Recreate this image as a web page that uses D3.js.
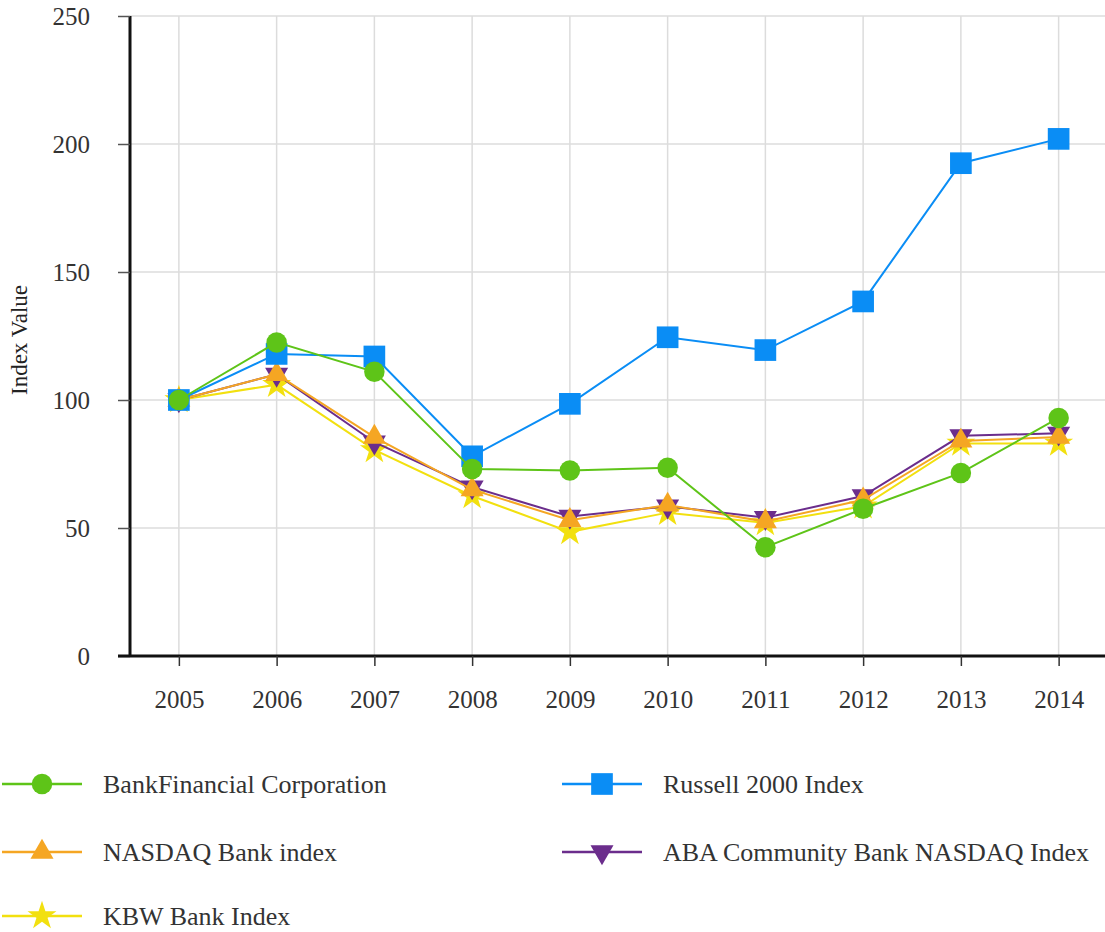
<!DOCTYPE html>
<html><head><meta charset="utf-8">
<script src="https://cdn.jsdelivr.net/npm/d3@7"></script>
<style>body{margin:0;background:#fff}svg{display:block}text{font-family:"Liberation Serif","DejaVu Serif","Times New Roman",serif}</style>
</head><body>
<svg id="c" width="1105" height="932"></svg>
<script>
const years = ["2005","2006","2007","2008","2009","2010","2011","2012","2013","2014"];
const yTicks = [0,50,100,150,200,250];
const bankFinancial = [100,122.5,111,73,72.5,73.5,42.5,57.5,71.5,93];
const russell2000  = [100,118,117,78,98.5,124.5,119.5,138.5,192.5,202];
const nasdaqBank   = [100,110,85.5,65,53,59,52.5,61,84,85.5];
const abaCommunity = [100,110,83.5,66,54.5,58.5,54,62.5,86,87];
const kbwBank      = [100,106,80.5,62.5,48.5,56,52,58.5,83,83];
const seriesNames  = ["BankFinancial Corporation","Russell 2000 Index","NASDAQ Bank index","ABA Community Bank NASDAQ Index","KBW Bank Index"];

const series = [
  {name:seriesNames[4], values:kbwBank, color:"#f2e00f", sym:d3.symbolStar, size:260, rot:0},
  {name:seriesNames[3], values:abaCommunity, color:"#6b2d8c", sym:d3.symbolTriangle, size:230, rot:180},
  {name:seriesNames[2], values:nasdaqBank, color:"#f5a623", sym:d3.symbolTriangle, size:230, rot:0},
  {name:seriesNames[1], values:russell2000, color:"#0a8df5", sym:d3.symbolSquare, size:470, rot:0},
  {name:seriesNames[0], values:bankFinancial, color:"#5ec418", sym:d3.symbolCircle, size:330, rot:0}
];

const svg = d3.select("#c");
const x = d3.scalePoint().domain(years).range([130,1107.5]).padding(0.5);
const y = d3.scaleLinear().domain([0,250]).range([656,16]);

// grid
svg.append("g").selectAll("line").data(years).join("line")
  .attr("x1",d=>x(d)).attr("x2",d=>x(d)).attr("y1",16).attr("y2",656)
  .attr("stroke","#dcdcdc").attr("stroke-width",1.5);
svg.append("g").selectAll("line").data(yTicks).join("line")
  .attr("x1",130).attr("x2",1105).attr("y1",d=>y(d)).attr("y2",d=>y(d))
  .attr("stroke","#dcdcdc").attr("stroke-width",1.5);

// axes
const yAxis = svg.append("g").attr("transform","translate(130,0)")
  .call(d3.axisLeft(y).tickValues(yTicks).tickSize(12).tickPadding(28));
yAxis.attr("font-family",null);
yAxis.select(".domain").attr("stroke","#111").attr("stroke-width",3).attr("d","M0,16V656");
yAxis.selectAll(".tick line").attr("stroke","#555").attr("stroke-width",1.5);
yAxis.selectAll("text").attr("font-size",25).attr("fill","#333");

const xAxis = svg.append("g").attr("transform","translate(0,656)")
  .call(d3.axisBottom(x).tickSize(10).tickPadding(24));
xAxis.attr("font-family",null);
xAxis.select(".domain").attr("stroke","#111").attr("stroke-width",3).attr("d","M118,0H1105");
xAxis.selectAll(".tick line").attr("stroke","#333").attr("stroke-width",1.5);
xAxis.selectAll("text").attr("font-size",25).attr("fill","#333");

svg.append("text").attr("transform","translate(27,340) rotate(-90)")
  .attr("text-anchor","middle").attr("font-size",23).attr("fill","#222")
  .text("Index Value");

// series
const line = d3.line().x((d,i)=>x(years[i])).y(d=>y(d));
series.forEach(s=>{
  const g = svg.append("g");
  g.append("path").attr("d",line(s.values)).attr("fill","none")
    .attr("stroke",s.color).attr("stroke-width",2);
  g.selectAll("path.m").data(s.values).join("path")
    .attr("class","m")
    .attr("d",d3.symbol().type(s.sym).size(s.size))
    .attr("transform",(d,i)=>`translate(${x(years[i])},${y(d)}) rotate(${s.rot})`)
    .attr("fill",s.color);
});

// legend: BankFinancial, Russell / NASDAQ, ABA / KBW
const leg = [
  {idx:4, lx:2, ly:784},
  {idx:3, lx:562, ly:784},
  {idx:2, lx:2, ly:852},
  {idx:1, lx:562, ly:852},
  {idx:0, lx:2, ly:916}
];
leg.forEach(l=>{
  const s = series[l.idx];
  const g = svg.append("g").attr("transform",`translate(${l.lx},${l.ly})`);
  g.append("line").attr("x1",0).attr("x2",80).attr("y1",0).attr("y2",0)
    .attr("stroke",s.color).attr("stroke-width",2.5);
  g.append("path").attr("d",d3.symbol().type(s.sym).size(s.size)())
    .attr("transform",`translate(40,0) rotate(${s.rot})`).attr("fill",s.color);
  g.append("text").attr("x",101).attr("y",0).attr("dy","0.35em")
    .attr("font-size",26).attr("fill","#333").text(s.name);
});
</script>
</body></html>
